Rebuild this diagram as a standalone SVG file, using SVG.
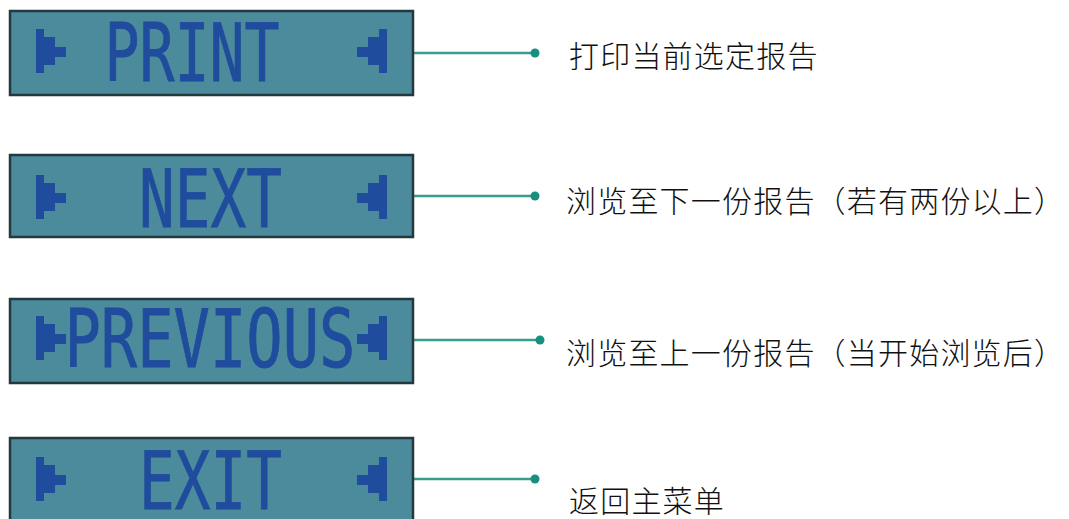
<svg xmlns="http://www.w3.org/2000/svg" width="1069" height="519" viewBox="0 0 1069 519">
<style>
.lcd{fill:#4b8b9b;stroke:#22393d;stroke-width:2.5}
.lt{font-family:"DejaVu Sans Mono","Liberation Mono",monospace;font-size:81px;fill:#1f4c9c;stroke:#1f4c9c;stroke-width:0.8}
.ar{fill:#1f4c9c}
.cn{stroke:#3a9c8f;stroke-width:2.5;fill:none}
.dot{fill:#17907f}
.lbl{font-family:"Noto Sans CJK SC","Noto Sans CJK JP",sans-serif;font-size:30px;font-weight:300;fill:#111;letter-spacing:1.2px}
</style>
<defs>
<path id="ra" class="ar" d="M0,0 h8 v8 h11 v10 h11 v10 h-11 v8 h-11 v8 h-8 z"/>
<path id="la" class="ar" d="M30,0 h-8 v8 h-11 v10 h-11 v10 h11 v8 h11 v8 h8 z"/>
</defs>
<rect width="1069" height="519" fill="#fff"/>
<g id="connectors">
<line class="cn" x1="413" y1="53" x2="535" y2="53"/><circle class="dot" cx="535" cy="53" r="4.5"/>
<line class="cn" x1="413" y1="196" x2="535" y2="196"/><circle class="dot" cx="535" cy="196" r="4.5"/>
<line class="cn" x1="413" y1="340" x2="540" y2="340"/><circle class="dot" cx="540" cy="340" r="4.5"/>
<line class="cn" x1="413" y1="479" x2="535" y2="479"/><circle class="dot" cx="535" cy="479" r="4.5"/>
</g>
<g id="print">
<rect class="lcd" x="10" y="11" width="403" height="84"/>
<use href="#ra" x="36" y="29"/><use href="#la" x="357" y="29"/>
<text class="lt" x="104.5" y="81" textLength="175" lengthAdjust="spacingAndGlyphs">PRINT</text>
</g>
<g id="next">
<rect class="lcd" x="10" y="155" width="403" height="82"/>
<use href="#ra" x="36" y="175"/><use href="#la" x="357" y="175"/>
<text class="lt" x="139" y="227" textLength="143" lengthAdjust="spacingAndGlyphs">NEXT</text>
</g>
<g id="previous">
<rect class="lcd" x="10" y="299" width="403" height="84"/>
<use href="#ra" x="36" y="316"/><use href="#la" x="357" y="316"/>
<text class="lt" x="64.5" y="367" textLength="291" lengthAdjust="spacingAndGlyphs">PREVIOUS</text>
</g>
<g id="exit">
<rect class="lcd" x="10" y="438" width="403" height="84"/>
<use href="#ra" x="36" y="457"/><use href="#la" x="357" y="457"/>
<text class="lt" x="139" y="509" textLength="143" lengthAdjust="spacingAndGlyphs">EXIT</text>
</g>
<g id="labels">
<text class="lbl" x="569" y="67">打印当前选定报告</text>
<text class="lbl" x="566" y="212">浏览至下一份报告（若有两份以上）</text>
<text class="lbl" x="566" y="364">浏览至上一份报告（当开始浏览后）</text>
<text class="lbl" x="569" y="512">返回主菜单</text>
</g>
</svg>
